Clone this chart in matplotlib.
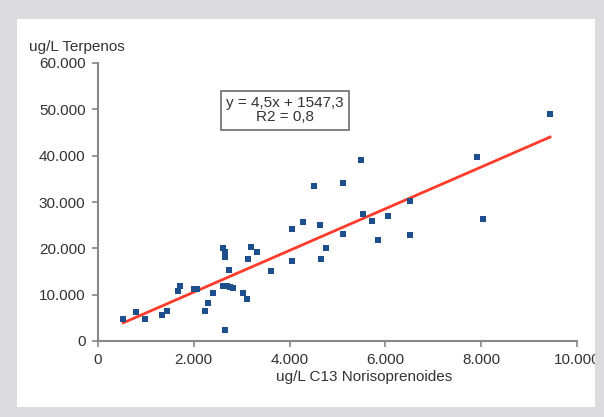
import matplotlib
matplotlib.use('Agg')
import matplotlib.pyplot as plt
from matplotlib.patches import Rectangle
import numpy as np

## data
norisoprenoides = [528, 793, 981, 1343, 1448, 1663, 1712, 2004, 2074, 2234,
                   2303, 2408, 2617, 2651, 2651, 2658, 2617, 2700, 2756, 2825,
                   2742, 3034, 3117, 3138, 3187, 3312, 3612, 4043, 4057, 4286,
                   4516, 4635, 4656, 4760, 5122, 5122, 5484, 5539, 5727, 5852,
                   6061, 6514, 6514, 7919, 8031, 9437]
terpenos = [4694, 6340, 4694, 5624, 6554, 10880, 11897, 11313, 11183, 6554,
            8155, 10448, 20052, 19101, 18236, 2379, 11897, 11897, 11745, 11530,
            15358, 10318, 9150, 17673, 20268, 19187, 15077, 17305, 24162, 25676,
            33528, 24940, 17673, 19965, 34112, 23145, 39152, 27407, 25957, 21696,
            26888, 30132, 22929, 39736, 26390, 49037]
slope, intercept = 4.5, 1547.3

xticks = [0, 2000, 4000, 6000, 8000, 10000]
xlabels = ['0', '2.000', '4.000', '6.000', '8.000', '10.000']
yticks = [0, 10000, 20000, 30000, 40000, 50000, 60000]
ylabels = ['0', '10.000', '20.000', '30.000', '40.000', '50.000', '60.000']

plt.rcParams['font.family'] = ['Liberation Sans', 'DejaVu Sans']
txt = '#333333'
gray = '#dcdcde'
fs = 11

fig = plt.figure(figsize=(6.04, 4.17), dpi=100)
fig.patch.set_facecolor(gray)
# white panel
fig.patches.append(Rectangle((17/604, 1-407/417), (595-17)/604, (407-19)/417,
                             transform=fig.transFigure, facecolor='white',
                             edgecolor='none', zorder=-1))

ax = fig.add_axes([98/604, 1-341/417, (577-98)/604, (341-63)/417])
ax.set_facecolor('none')

ax.scatter(norisoprenoides, terpenos, marker='s', s=20, color='#1d4f8c',
           linewidths=0, zorder=3)
xl = np.array([min(norisoprenoides), max(norisoprenoides)])
ax.plot(xl, slope*xl + intercept, color='#ff3b2b', lw=2, zorder=2)

ax.set_xlim(0, 10000)
ax.set_ylim(0, 60000)
ax.set_xticks(xticks)
ax.set_xticklabels(xlabels)
ax.set_yticks(yticks)
ax.set_yticklabels(ylabels)
for s in ['top', 'right']:
    ax.spines[s].set_visible(False)
for s in ['left', 'bottom']:
    ax.spines[s].set_color('#888888')
    ax.spines[s].set_linewidth(1.5)
ax.tick_params(axis='both', colors='#888888', width=1.2, length=4,
               labelcolor=txt, labelsize=fs)
ax.tick_params(axis='x', pad=5)
ax.tick_params(axis='y', pad=5)

ax.text(3904, 49750, 'y = 4,5x + 1547,3\nR2 = 0,8', ha='center', va='center',
        fontsize=fs, color=txt, linespacing=1.0,
        bbox=dict(boxstyle='square,pad=0.35', facecolor='white',
                  edgecolor='#777777', lw=1.3))

fig.text(29/604, 1-47/417, 'ug/L Terpenos', ha='left', va='center',
         fontsize=fs, color=txt)
fig.text(364/604, 1-377/417, 'ug/L C13 Norisoprenoides', ha='center',
         va='center', fontsize=fs, color=txt)

# gray frame on top (clips the last tick label like the original)
fig.patches.append(Rectangle((595/604, 0), 9/604, 1, transform=fig.transFigure,
                             facecolor=gray, edgecolor='none', zorder=10))

fig.savefig('out.png', dpi=100, facecolor=gray)
